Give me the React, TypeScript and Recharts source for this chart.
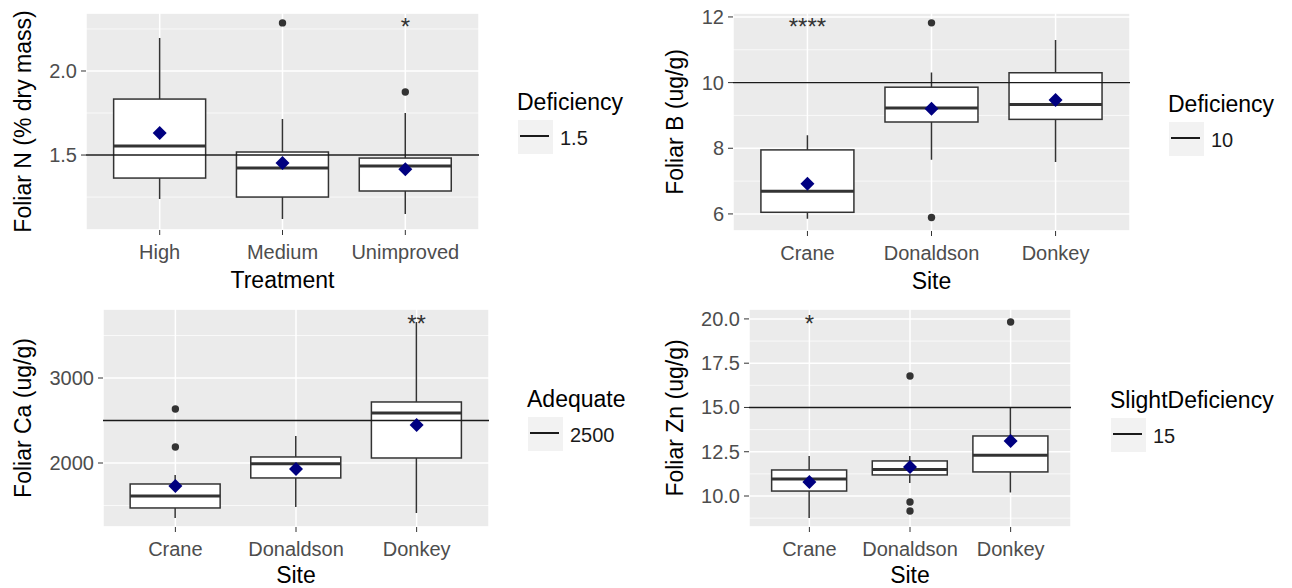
import React from 'react';
import { Bar, CartesianGrid, ComposedChart, Legend, ReferenceDot, ReferenceLine, Scatter, XAxis, YAxis } from 'recharts';

const FONT = '"Liberation Sans", Arial, sans-serif';

const treatments = ['High', 'Medium', 'Unimproved'];
const sites = ['Crane', 'Donaldson', 'Donkey'];

// Foliar N (% dry mass) by treatment
const nLow = [1.238, 1.119, 1.149];
const nQ1 = [1.363, 1.25, 1.286];
const nMedian = [1.554, 1.423, 1.435];
const nQ3 = [1.833, 1.518, 1.482];
const nHigh = [2.196, 1.714, 1.75];
const nMean = [1.631, 1.452, 1.416];
const nOutliers = [[], [2.286], [1.875]];
const nSignif = ['', '', '*'];
const nSignifAt = 2.3;
const nTicks = [1.5, 2.0];
const nMinor = [1.25, 1.75, 2.25];
const nDomain = [1.054, 2.345];

// Foliar B (ug/g) by site
const bLow = [5.85, 7.65, 7.58];
const bQ1 = [6.05, 8.8, 8.88];
const bMedian = [6.69, 9.23, 9.33];
const bQ3 = [7.95, 9.86, 10.3];
const bHigh = [8.4, 10.31, 11.3];
const bMean = [6.92, 9.2, 9.47];
const bOutliers = [[], [11.82, 5.89], []];
const bSignif = ['****', '', ''];
const bSignifAt = 11.88;
const bTicks = [6, 8, 10, 12];
const bMinor = [7, 9, 11];
const bDomain = [5.48, 12.12];

// Foliar Ca (ug/g) by site
const caLow = [1353, 1482, 1412];
const caQ1 = [1471, 1824, 2059];
const caMedian = [1612, 1992, 2588];
const caQ3 = [1753, 2071, 2718];
const caHigh = [1859, 2318, 3659];
const caMean = [1729, 1929, 2447];
const caOutliers = [[2635, 2188], [], []];
const caSignif = ['', '', '**'];
const caSignifAt = 3706;
const caTicks = [2000, 3000];
const caMinor = [1500, 2500, 3500];
const caDomain = [1247, 3812];

// Foliar Zn (ug/g) by site
const znLow = [8.76, 10.73, 10.2];
const znQ1 = [10.28, 11.19, 11.36];
const znMedian = [10.96, 11.5, 12.3];
const znQ3 = [11.47, 11.98, 13.39];
const znHigh = [12.26, 12.26, 15.0];
const znMean = [10.79, 11.64, 13.1];
const znOutliers = [[], [16.78, 9.66, 9.15], [19.83]];
const znSignif = ['*', '', ''];
const znSignifAt = 20.06;
const znTicks = [10, 12.5, 15, 17.5, 20];
const znMinor = [8.75, 11.25, 13.75, 16.25, 18.75];
const znDomain = [8.25, 20.56];

function buildRows(cats: string[], low: number[], q1: number[], median: number[], q3: number[], high: number[], mean: number[]) {
  return cats.map((cat, i) => ({
    cat,
    whisker: [low[i], high[i]],
    q1: q1[i],
    median: median[i],
    q3: q3[i],
    mean: mean[i],
  }));
}

// whisker range comes in as the bar extent; the box edges are placed on the same linear scale
function BoxShape(props: any) {
  const { x, y, width, height, payload } = props;
  const [lo, hi] = payload.whisker;
  const k = height / (hi - lo);
  const py = (v: number) => y + (hi - v) * k;
  const cx = x + width / 2;
  const top = py(payload.q3);
  const bottom = py(payload.q1);
  return (
    <g>
      <line x1={cx} x2={cx} y1={py(hi)} y2={top} stroke="#333333" strokeWidth={1.5} />
      <line x1={cx} x2={cx} y1={bottom} y2={py(lo)} stroke="#333333" strokeWidth={1.5} />
      <rect x={x} y={top} width={width} height={bottom - top} fill="#FFFFFF" stroke="#333333" strokeWidth={1.5} />
      <line x1={x} x2={x + width} y1={py(payload.median)} y2={py(payload.median)} stroke="#333333" strokeWidth={3} />
    </g>
  );
}

function MeanDiamond(props: any) {
  const { cx, cy } = props;
  const s = 7;
  return <polygon points={`${cx},${cy - s} ${cx + s},${cy} ${cx},${cy + s} ${cx - s},${cy}`} fill="#000080" />;
}

function XTick(props: any) {
  return (
    <text x={props.x} y={props.y + 21.5} textAnchor="middle" fill="#4D4D4D" fontSize={20} fontFamily={FONT}>
      {props.payload.value}
    </text>
  );
}

function makeYTick(digits: number) {
  return (props: any) => (
    <text x={props.x} y={props.y + 7} textAnchor="end" fill="#4D4D4D" fontSize={20} fontFamily={FONT}>
      {Number(props.payload.value).toFixed(digits)}
    </text>
  );
}

function KeyBox({ title, value }: { title: string; value: string }) {
  return (
    <div style={{ position: 'relative', width: 180, height: 66, fontFamily: FONT }}>
      <div style={{ position: 'absolute', left: 0, top: 0, fontSize: 23, lineHeight: '23px', color: '#000', whiteSpace: 'nowrap' }}>{title}</div>
      <div style={{ position: 'absolute', left: 1, top: 29.5, width: 35, height: 34, background: '#F2F2F2' }}>
        <div style={{ position: 'absolute', left: 2, width: 29, top: 15, height: 2, background: '#1A1A1A' }} />
      </div>
      <div style={{ position: 'absolute', left: 43, top: 37.5, fontSize: 20, lineHeight: '20px', color: '#1A1A1A' }}>{value}</div>
    </div>
  );
}

type PanelCfg = {
  left: number;
  top: number;
  width: number;
  height: number;
  mTop: number;
  mRight: number;
  yw: number;
  xh: number;
  titleX: number;
  titleDy: number;
  legend: [number, number];
};

type PanelProps = {
  cfg: PanelCfg;
  cats: string[];
  rows: any[];
  outliers: number[][];
  signif: string[];
  signifAt: number;
  ticks: number[];
  minor: number[];
  domain: number[];
  digits: number;
  yTitle: string;
  xTitle: string;
  threshold: number;
  legendTitle: string;
};

function BoxPanel({ cfg, cats, rows, outliers, signif, signifAt, ticks, minor, domain, digits, yTitle, xTitle, threshold, legendTitle }: PanelProps) {
  const plotW = cfg.width - cfg.yw - cfg.mRight;
  const plotH = cfg.height - cfg.mTop - cfg.xh;
  const pad = plotW / 32;
  const plotCx = cfg.yw + plotW / 2;
  const plotCy = cfg.mTop + plotH / 2;
  const plotBottom = cfg.mTop + plotH;

  return (
    <div style={{ position: 'absolute', left: cfg.left, top: cfg.top }}>
      <ComposedChart
        width={cfg.width}
        height={cfg.height}
        data={rows}
        margin={{ top: cfg.mTop, right: cfg.mRight, bottom: 0, left: 0 }}
        barCategoryGap="12.5%"
      >
        <CartesianGrid fill="#EBEBEB" stroke="#FFFFFF" strokeWidth={1.5} />
        <CartesianGrid yAxisId="minor" vertical={false} stroke="#FFFFFF" strokeWidth={0.7} />
        <XAxis
          dataKey="cat"
          type="category"
          interval={0}
          padding={{ left: pad, right: pad }}
          height={cfg.xh}
          axisLine={false}
          tickSize={5}
          tickMargin={2}
          tickLine={{ stroke: '#333333', strokeWidth: 1 }}
          tick={<XTick />}
          label={{
            content: () => (
              <text x={plotCx} y={plotBottom + cfg.titleDy} textAnchor="middle" fontSize={23} fontFamily={FONT} fill="#000">
                {xTitle}
              </text>
            ),
          }}
        />
        <YAxis
          type="number"
          domain={domain}
          ticks={ticks}
          allowDataOverflow
          width={cfg.yw}
          axisLine={false}
          tickSize={5}
          tickMargin={4}
          tickLine={{ stroke: '#333333', strokeWidth: 1 }}
          tick={makeYTick(digits)}
          label={{
            content: () => (
              <text
                x={cfg.titleX}
                y={plotCy}
                transform={`rotate(-90, ${cfg.titleX}, ${plotCy})`}
                textAnchor="middle"
                fontSize={23}
                fontFamily={FONT}
                fill="#000"
              >
                {yTitle}
              </text>
            ),
          }}
        />
        <YAxis yAxisId="minor" hide type="number" domain={domain} ticks={minor} allowDataOverflow />
        <Bar dataKey="whisker" shape={<BoxShape />} isAnimationActive={false} />
        <ReferenceLine y={threshold} stroke="#1A1A1A" strokeWidth={1.4} />
        {outliers.map((vals, i) =>
          vals.map((v, j) => (
            <ReferenceDot key={`o-${i}-${j}`} x={cats[i]} y={v} r={3.7} fill="#333333" stroke="none" />
          ))
        )}
        {signif.map((s, i) =>
          s ? (
            <ReferenceDot
              key={`s-${i}`}
              x={cats[i]}
              y={signifAt}
              r={0}
              shape={(p: any) => (
                <text x={p.cx} y={p.cy + 14} textAnchor="middle" fontSize={24} fontFamily={FONT} fill="#333333">
                  {s}
                </text>
              )}
            />
          ) : null
        )}
        <Scatter dataKey="mean" shape={<MeanDiamond />} isAnimationActive={false} />
        <Legend
          layout="vertical"
          align="center"
          verticalAlign="middle"
          wrapperStyle={{ left: cfg.legend[0], top: cfg.legend[1], width: 180, height: 66 }}
          content={() => <KeyBox title={legendTitle} value={String(threshold)} />}
        />
      </ComposedChart>
    </div>
  );
}

const cfgN: PanelCfg = { left: 0, top: 0, width: 640, height: 295, mTop: 13, mRight: 161, yw: 86, xh: 65, titleX: 31, titleDy: 58, legend: [517, 90.5] };
const cfgB: PanelCfg = { left: 640, top: 0, width: 652, height: 295, mTop: 13, mRight: 162, yw: 93, xh: 64, titleX: 43, titleDy: 58, legend: [528, 92.5] };
const cfgCa: PanelCfg = { left: 0, top: 295, width: 640, height: 293, mTop: 14, mRight: 151, yw: 103, xh: 61, titleX: 31, titleDy: 56, legend: [527, 92.5] };
const cfgZn: PanelCfg = { left: 640, top: 295, width: 652, height: 293, mTop: 14, mRight: 221, yw: 109, xh: 61, titleX: 43, titleDy: 56, legend: [470, 93.5] };

export default function App() {
  return (
    <div style={{ position: 'absolute', left: 0, top: 0, width: 1292, height: 588, background: '#FFFFFF', overflow: 'hidden', fontFamily: FONT }}>
      <BoxPanel
        cfg={cfgN}
        cats={treatments}
        rows={buildRows(treatments, nLow, nQ1, nMedian, nQ3, nHigh, nMean)}
        outliers={nOutliers}
        signif={nSignif}
        signifAt={nSignifAt}
        ticks={nTicks}
        minor={nMinor}
        domain={nDomain}
        digits={1}
        yTitle="Foliar N (% dry mass)"
        xTitle="Treatment"
        threshold={1.5}
        legendTitle="Deficiency"
      />
      <BoxPanel
        cfg={cfgB}
        cats={sites}
        rows={buildRows(sites, bLow, bQ1, bMedian, bQ3, bHigh, bMean)}
        outliers={bOutliers}
        signif={bSignif}
        signifAt={bSignifAt}
        ticks={bTicks}
        minor={bMinor}
        domain={bDomain}
        digits={0}
        yTitle="Foliar B (ug/g)"
        xTitle="Site"
        threshold={10}
        legendTitle="Deficiency"
      />
      <BoxPanel
        cfg={cfgCa}
        cats={sites}
        rows={buildRows(sites, caLow, caQ1, caMedian, caQ3, caHigh, caMean)}
        outliers={caOutliers}
        signif={caSignif}
        signifAt={caSignifAt}
        ticks={caTicks}
        minor={caMinor}
        domain={caDomain}
        digits={0}
        yTitle="Foliar Ca (ug/g)"
        xTitle="Site"
        threshold={2500}
        legendTitle="Adequate"
      />
      <BoxPanel
        cfg={cfgZn}
        cats={sites}
        rows={buildRows(sites, znLow, znQ1, znMedian, znQ3, znHigh, znMean)}
        outliers={znOutliers}
        signif={znSignif}
        signifAt={znSignifAt}
        ticks={znTicks}
        minor={znMinor}
        domain={znDomain}
        digits={1}
        yTitle="Foliar Zn (ug/g)"
        xTitle="Site"
        threshold={15}
        legendTitle="SlightDeficiency"
      />
    </div>
  );
}
